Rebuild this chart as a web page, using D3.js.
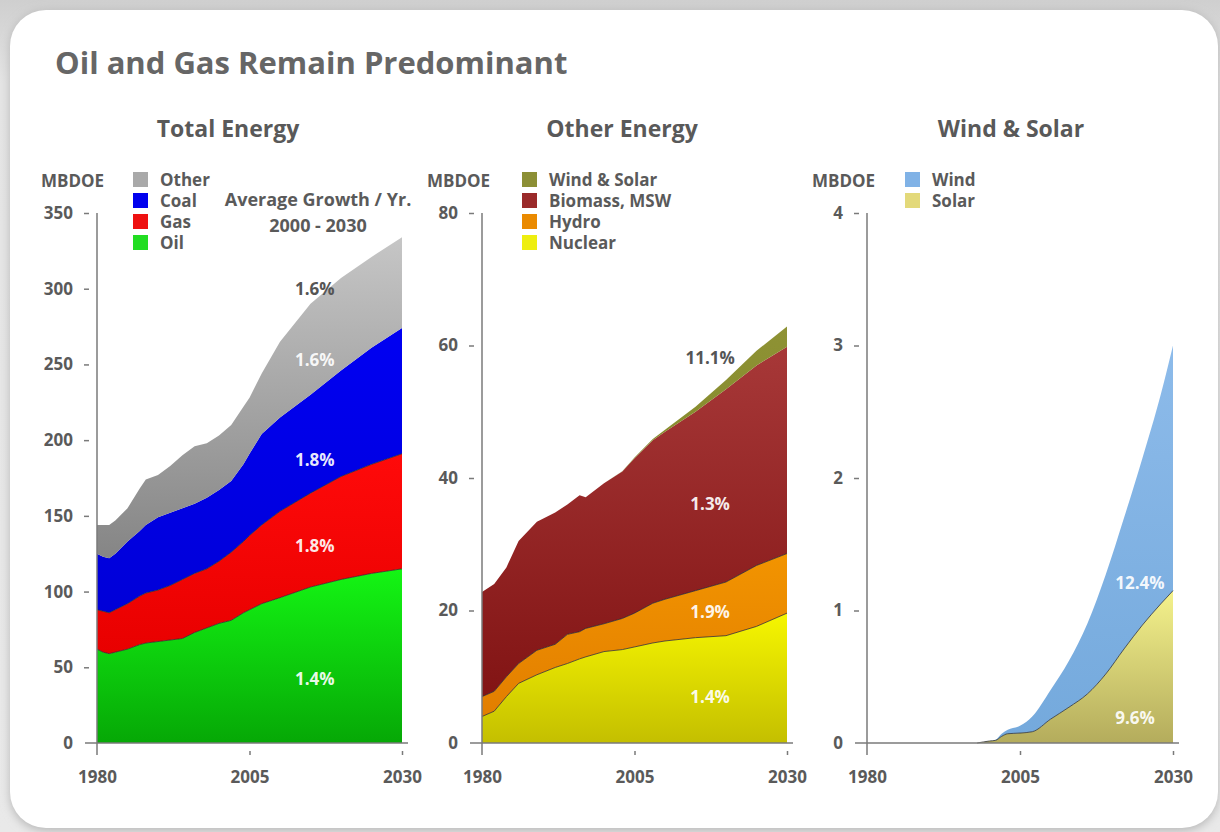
<!DOCTYPE html>
<html>
<head>
<meta charset="utf-8">
<script src="https://cdn.jsdelivr.net/npm/d3@7"></script>
<style>
  html, body { margin: 0; padding: 0; background: #dedede; }
  svg { display: block; }
  text { font-family: "Open Sans", "DejaVu Sans", sans-serif; font-weight: 700; }
</style>
</head>
<body>
<svg id="chart" width="1220" height="832"></svg>
<script>
// ---------- Total energy, MBDOE (stacked: Oil, Gas, Coal, Other) ----------
const totalYears = [1980, 1981, 1982, 1983, 1985, 1987, 1988, 1990, 1992, 1994, 1996, 1998, 2000, 2002, 2004, 2005, 2007, 2010, 2015, 2020, 2025, 2030];
const oil        = [62, 60, 59, 60, 62, 65, 66, 67, 68, 69, 73, 76, 79, 81, 86, 88, 92, 96, 103, 108, 112, 115];
const gas        = [26, 27, 27, 28, 30, 32, 33, 34, 36, 39, 39, 39, 41, 45, 47, 49, 52, 57, 62, 68, 72, 76];
const coal       = [37, 36, 36, 37, 41, 43, 45, 48, 48, 47, 46, 47, 47, 47, 51, 54, 60, 62, 65, 70, 77, 83];
const otherFuel  = [19, 21, 22, 22, 22, 28, 30, 28, 31, 35, 38, 36, 36, 37, 38, 37, 40, 50, 60, 61, 60, 60];
const totalKeys   = ["Oil", "Gas", "Coal", "Other"];
const totalLegend = ["Other", "Coal", "Gas", "Oil"];
const totalGrowth   = ["1.6%", "1.6%", "1.8%", "1.8%", "1.4%"];
const totalGrowthAt = [300, 253, 187, 130, 42];   // MBDOE level of each growth label
const totalTicks  = [0, 50, 100, 150, 200, 250, 300, 350];

// ---------- Other energy, MBDOE (stacked: Nuclear, Hydro, Biomass/MSW, Wind & Solar) ----------
const otherYears = [1980, 1982, 1984, 1986, 1989, 1992, 1994, 1996, 1997, 2000, 2003, 2005, 2008, 2010, 2015, 2020, 2025, 2030];
const nuclear    = [4.0, 4.8, 7.0, 9.0, 10.3, 11.4, 12.0, 12.7, 13.0, 13.8, 14.1, 14.5, 15.1, 15.4, 15.9, 16.2, 17.6, 19.6];
const hydro      = [3.0, 3.0, 3.0, 3.0, 3.7, 3.5, 4.4, 4.1, 4.3, 4.2, 4.7, 5.1, 6.0, 6.3, 7.1, 8.1, 9.2, 9.0];
const biomass    = [15.8, 16.2, 16.5, 18.5, 19.4, 19.9, 19.6, 20.6, 19.8, 21.2, 22.2, 23.4, 24.6, 25.3, 27.0, 29.1, 30.2, 31.2];
const windSolar  = [0, 0, 0, 0, 0, 0, 0, 0, 0, 0, 0.03, 0.1, 0.2, 0.3, 0.75, 1.4, 2.2, 3.05];
const otherKeys   = ["Nuclear", "Hydro", "Biomass, MSW", "Wind & Solar"];
const otherLegend = ["Wind & Solar", "Biomass, MSW", "Hydro", "Nuclear"];
const otherGrowth   = ["11.1%", "1.3%", "1.9%", "1.4%"];
const otherGrowthAt = [58.1, 36.0, 19.8, 7.0];
const otherTicks  = [0, 20, 40, 60, 80];

// ---------- Wind & solar, MBDOE (stacked: Solar, Wind) ----------
const renewYears = [1980, 1998, 2000, 2001, 2002, 2003, 2005, 2007, 2010, 2013, 2016, 2019, 2022, 2025, 2028, 2030];
const solar      = [0, 0, 0.015, 0.02, 0.05, 0.07, 0.075, 0.085, 0.18, 0.27, 0.37, 0.52, 0.71, 0.89, 1.05, 1.15];
const wind       = [0, 0, 0, 0.005, 0.02, 0.03, 0.055, 0.115, 0.22, 0.35, 0.53, 0.75, 0.99, 1.26, 1.58, 1.85];
const renewKeys   = ["Solar", "Wind"];
const renewLegend = ["Wind", "Solar"];
const renewGrowth   = ["12.4%", "9.6%"];
const renewGrowthAt = [1.21, 0.19];
const renewGrowthYear = [2024.6, 2023.8];
const renewTicks  = [0, 1, 2, 3, 4];

const xTicks = [1980, 2005, 2030];

// Fill gradients (top colour, bottom colour) and legend swatch colours
const palette = {
  "Other":        { top: "#c6c6c6", bottom: "#858585", swatch: "#a9a9a9" },
  "Coal":         { top: "#0000f2", bottom: "#0000d8", swatch: "#0000ee" },
  "Gas":          { top: "#ff0a0a", bottom: "#e80000", swatch: "#ee1111" },
  "Oil":          { top: "#14f514", bottom: "#06a806", swatch: "#22dd22" },
  "Wind & Solar": { top: "#8e9234", bottom: "#7e8226", swatch: "#8c8f35" },
  "Biomass, MSW": { top: "#a73838", bottom: "#821414", swatch: "#9a2a2a" },
  "Hydro":        { top: "#f29400", bottom: "#e27e00", swatch: "#ea8a00" },
  "Nuclear":      { top: "#f6f600", bottom: "#c4bf00", swatch: "#eeee10" },
  "Wind":         { top: "#8dbbea", bottom: "#74a9dc", swatch: "#80b2e6" },
  "Solar":        { top: "#f4f28c", bottom: "#b4ac5c", swatch: "#e3d97a" }
};

const labelColor = "#5a5a5a";
const labelSize = 17;

const svg = d3.select("#chart");
const defs = svg.append("defs");

// background + rounded white card with a soft shadow
const bgGrad = defs.append("linearGradient").attr("id", "bg").attr("x1", 0).attr("y1", 0).attr("x2", 0).attr("y2", 1);
bgGrad.append("stop").attr("offset", 0).attr("stop-color", "#cfcfcf");
bgGrad.append("stop").attr("offset", 0.1).attr("stop-color", "#e4e4e4");
bgGrad.append("stop").attr("offset", 1).attr("stop-color", "#e9e9e9");
svg.append("rect").attr("width", 1220).attr("height", 832).attr("fill", "url(#bg)");

const shadow = defs.append("filter").attr("id", "shadow").attr("x", -0.05).attr("y", -0.05).attr("width", 1.1).attr("height", 1.1);
shadow.append("feGaussianBlur").attr("stdDeviation", 5);
svg.append("rect").attr("x", 10).attr("y", 11).attr("width", 1208).attr("height", 820).attr("rx", 36)
  .attr("fill", "#b8b8b8").attr("filter", "url(#shadow)");
svg.append("rect").attr("x", 10).attr("y", 10).attr("width", 1208).attr("height", 818).attr("rx", 36)
  .attr("fill", "#ffffff");

Object.entries(palette).forEach(([name, c]) => {
  const g = defs.append("linearGradient").attr("id", "g-" + name.replace(/[^A-Za-z]/g, ""))
    .attr("x1", 0).attr("y1", 0).attr("x2", 0).attr("y2", 1);
  g.append("stop").attr("offset", 0).attr("stop-color", c.top);
  g.append("stop").attr("offset", 1).attr("stop-color", c.bottom);
});
const fillOf = name => "url(#g-" + name.replace(/[^A-Za-z]/g, "") + ")";

// title
svg.append("text").attr("x", 55).attr("y", 74).attr("font-size", 31).attr("fill", "#666")
  .text("Oil and Gas Remain Predominant");

function drawPanel(cfg) {
  const x = d3.scaleLinear().domain([1980, 2030]).range([cfg.left, cfg.right]);
  const y = d3.scaleLinear().domain([0, cfg.max]).range([743, 213]);

  const rows = cfg.years.map((yr, i) => {
    const r = { year: yr };
    cfg.keys.forEach((k, j) => { r[k] = cfg.series[j][i]; });
    return r;
  });
  const layers = d3.stack().keys(cfg.keys)(rows);

  const g = svg.append("g");

  const area = d3.area()
    .x(d => x(d.data.year))
    .y0(d => y(d[0]))
    .y1(d => y(d[1]))
    .curve(cfg.curve);

  g.selectAll("path.layer").data(layers).join("path")
    .attr("class", "layer")
    .attr("d", area)
    .attr("fill", d => fillOf(d.key));

  // thin dark edges along the tops of the lower layers
  const edge = d3.line()
    .defined(d => d.data.year >= cfg.edgeFrom)
    .x(d => x(d.data.year))
    .y(d => y(d[1]))
    .curve(cfg.curve);
  g.selectAll("path.edge").data(layers.filter((l, i) => cfg.edges.includes(i))).join("path")
    .attr("class", "edge")
    .attr("d", edge)
    .attr("fill", "none")
    .attr("stroke", "#2a2a2a")
    .attr("stroke-opacity", 0.75)
    .attr("stroke-width", 1);

  // axes
  const axisColor = "#7a7a7a";
  g.append("line").attr("x1", cfg.left).attr("x2", cfg.left).attr("y1", y(cfg.max)).attr("y2", 755)
    .attr("stroke", axisColor).attr("stroke-width", 1.5);
  g.append("line").attr("x1", cfg.left - 12).attr("x2", cfg.right + 6).attr("y1", y(0)).attr("y2", y(0))
    .attr("stroke", axisColor).attr("stroke-width", 1.5);

  const yAxis = g.append("g").attr("transform", `translate(${cfg.left},0)`)
    .call(d3.axisLeft(y).tickValues(cfg.ticks).tickFormat(d3.format("d")).tickSize(0).tickPadding(24));
  yAxis.select(".domain").remove();
  yAxis.selectAll(".tick line")
    .filter(d => d !== 0)
    .attr("x1", -13).attr("x2", -8).attr("stroke", axisColor).attr("stroke-width", 1.5);
  yAxis.selectAll(".tick text").attr("font-size", labelSize).attr("fill", labelColor)
    .attr("font-family", "\"Open Sans\", sans-serif").attr("font-weight", 700);

  const xAxis = g.append("g").attr("transform", `translate(0,${y(0)})`)
    .call(d3.axisBottom(x).tickValues(xTicks).tickFormat(d3.format("d")).tickSize(0).tickPadding(40));
  xAxis.select(".domain").remove();
  xAxis.selectAll(".tick").filter(d => d !== 1980).append("line")
    .attr("y1", 8).attr("y2", 12).attr("stroke", axisColor).attr("stroke-width", 1.5);
  xAxis.selectAll(".tick text").attr("font-size", labelSize).attr("fill", labelColor)
    .attr("font-family", "\"Open Sans\", sans-serif").attr("font-weight", 700)
    .attr("dy", "0");

  // headings
  svg.append("text").attr("x", cfg.titleX).attr("y", 137).attr("text-anchor", "middle")
    .attr("font-size", 23).attr("fill", "#595959").text(cfg.title);
  svg.append("text").attr("x", cfg.unitX).attr("y", 187)
    .attr("font-size", labelSize).attr("fill", labelColor).text("MBDOE");

  // legend
  const leg = svg.append("g");
  cfg.legend.forEach((name, i) => {
    leg.append("rect").attr("x", cfg.legendX).attr("y", 172 + i * 21).attr("width", 15).attr("height", 15)
      .attr("fill", palette[name].swatch);
    leg.append("text").attr("x", cfg.legendX + 27).attr("y", 186 + i * 21)
      .attr("font-size", labelSize).attr("fill", labelColor).text(name);
  });

  // growth labels
  cfg.growth.forEach((t, i) => {
    const yr = cfg.growthYear ? cfg.growthYear[i] : cfg.growthX;
    svg.append("text")
      .attr("x", x(yr)).attr("y", y(cfg.growthAt[i]))
      .attr("dy", "0.35em").attr("text-anchor", "middle")
      .attr("font-size", labelSize)
      .attr("fill", cfg.darkLabels.includes(i) ? "#555" : "#ffffff")
      .attr("fill-opacity", cfg.darkLabels.includes(i) ? 1 : 0.93)
      .text(t);
  });
}

drawPanel({
  title: "Total Energy", titleX: 228, unitX: 41, legendX: 133,
  left: 97, right: 402, max: 350, ticks: totalTicks,
  years: totalYears, keys: totalKeys, series: [oil, gas, coal, otherFuel],
  legend: totalLegend, curve: d3.curveLinear, edges: [0, 1], edgeFrom: 1980,
  growth: totalGrowth, growthAt: totalGrowthAt, growthX: 2015.7, darkLabels: [0]
});

svg.append("text").attr("x", 318).attr("y", 206).attr("text-anchor", "middle")
  .attr("font-size", 18).attr("fill", labelColor).text("Average Growth / Yr.");
svg.append("text").attr("x", 318).attr("y", 232).attr("text-anchor", "middle")
  .attr("font-size", 18).attr("fill", labelColor).text("2000 - 2030");

drawPanel({
  title: "Other Energy", titleX: 622, unitX: 427, legendX: 522,
  left: 482, right: 787, max: 80, ticks: otherTicks,
  years: otherYears, keys: otherKeys, series: [nuclear, hydro, biomass, windSolar],
  legend: otherLegend, curve: d3.curveLinear, edges: [0, 1], edgeFrom: 1980,
  growth: otherGrowth, growthAt: otherGrowthAt, growthX: 2017.4, darkLabels: [0]
});

drawPanel({
  title: "Wind & Solar", titleX: 1011, unitX: 812, legendX: 905,
  left: 867, right: 1173, max: 4, ticks: renewTicks,
  years: renewYears, keys: renewKeys, series: [solar, wind],
  legend: renewLegend, curve: d3.curveMonotoneX, edges: [0], edgeFrom: 1998,
  growth: renewGrowth, growthAt: renewGrowthAt, growthYear: renewGrowthYear, darkLabels: []
});
</script>
</body>
</html>
